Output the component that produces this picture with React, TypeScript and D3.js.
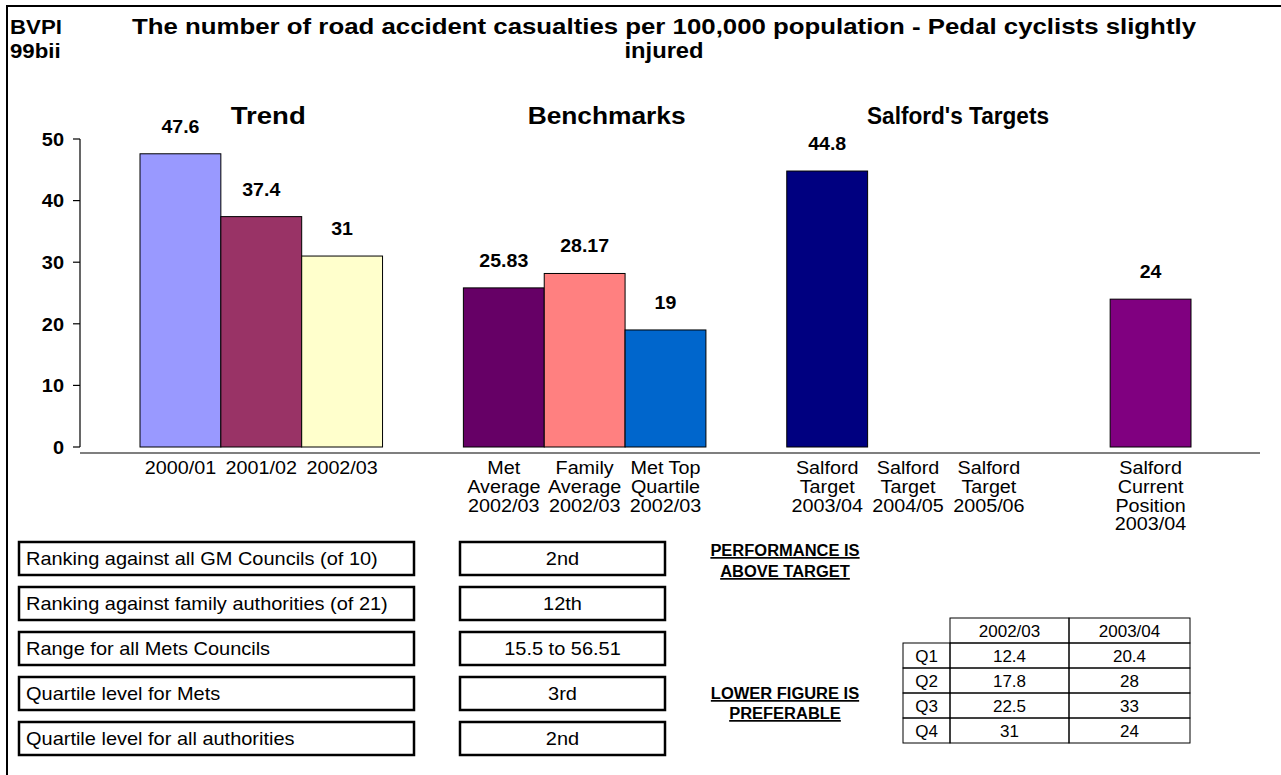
import React from "react";
import * as d3 from "d3";

const categories: string[][] = [
  ["2000/01"],
  ["2001/02"],
  ["2002/03"],
  [],
  ["Met", "Average", "2002/03"],
  ["Family", "Average", "2002/03"],
  ["Met Top", "Quartile", "2002/03"],
  [],
  ["Salford", "Target", "2003/04"],
  ["Salford", "Target", "2004/05"],
  ["Salford", "Target", "2005/06"],
  [],
  ["Salford", "Current", "Position", "2003/04"],
];
const values: (number | null)[] = [47.6, 37.4, 31, null, 25.83, 28.17, 19, null, 44.8, null, null, null, 24];
const barColors: string[] = [
  "#9999FF", "#993366", "#FFFFCC", "none",
  "#660066", "#FF8080", "#0066CC", "none",
  "#000080", "#000080", "#000080", "none",
  "#800080",
];
const groupTitles = ["Trend", "Benchmarks", "Salford's Targets"];
const groupAnchorIndex = [1, 5, 9];
const yTicks = [0, 10, 20, 30, 40, 50];

const infoLabels = [
  "Ranking against all GM Councils (of 10)",
  "Ranking against family authorities (of 21)",
  "Range for all Mets Councils",
  "Quartile level for Mets",
  "Quartile level for all authorities",
];
const infoValues = ["2nd", "12th", "15.5 to 56.51", "3rd", "2nd"];

const quartileYears = ["2002/03", "2003/04"];
const quartileNames = ["Q1", "Q2", "Q3", "Q4"];
const quartile0203 = ["12.4", "17.8", "22.5", "31"];
const quartile0304 = ["20.4", "28", "33", "24"];

const FONT = "'Liberation Sans', Arial, sans-serif";

function SText(props: {
  x: number;
  y: number;
  sx?: number;
  size: number;
  bold?: boolean;
  anchor?: "start" | "middle" | "end";
  dy?: string;
  underline?: boolean;
  children: React.ReactNode;
}) {
  const { x, y, sx = 1, size, bold, anchor = "start", dy, underline, children } = props;
  return (
    <text
      transform={`translate(${x},${y}) scale(${sx},1)`}
      x={0}
      y={0}
      dy={dy}
      fontSize={size}
      fontWeight={bold ? "bold" : "normal"}
      textAnchor={anchor}
      textDecoration={underline ? "underline" : undefined}
    >
      {children}
    </text>
  );
}

export default function App() {
  const W = 1281;
  const H = 775;
  const keys = categories.map((_, i) => String(i));
  const x = d3.scaleBand<string>().domain(keys).range([140, 1191]).paddingInner(0).paddingOuter(0);
  const y = d3.scaleLinear().domain([0, 50]).range([447, 139]);
  const bw = x.bandwidth();
  const groupDx = [7, 22, 50];
  const groupLen = [75, 158, 182];

  const boxTop = 542;
  const boxStep = 45;
  const boxH = 33;

  const tX = [903, 950, 1069, 1190];
  const tY0 = 618;
  const rowH = 25;

  return (
    <svg
      width={W}
      height={H}
      style={{ position: "absolute", left: 0, top: 0, display: "block", background: "#fff" }}
      fontFamily={FONT}
    >
      <rect x={0} y={0} width={W} height={H} fill="#fff" />
      {/* frame */}
      <line x1={7} y1={6} x2={W} y2={6} stroke="#000" strokeWidth={2} />
      <line x1={7} y1={5} x2={7} y2={H} stroke="#000" strokeWidth={2} />

      {/* title */}
      <SText x={10} y={34} size={21} bold sx={1.06}>BVPI</SText>
      <SText x={10} y={58} size={21} bold sx={1.06}>99bii</SText>
      <text
        x={664}
        y={34}
        fontSize={22}
        fontWeight="bold"
        textAnchor="middle"
        textLength={1064}
        lengthAdjust="spacingAndGlyphs"
      >
        The number of road accident casualties per 100,000 population - Pedal cyclists slightly
      </text>
      <SText x={664} y={58} size={22} bold sx={1.08} anchor="middle">injured</SText>

      {/* group titles */}
      {groupTitles.map((g, i) => (
        <text
          key={g}
          x={(x(keys[groupAnchorIndex[i]]) as number) + bw / 2 + groupDx[i]}
          y={124}
          fontSize={23}
          fontWeight="bold"
          textAnchor="middle"
          textLength={groupLen[i]}
          lengthAdjust="spacingAndGlyphs"
        >
          {g}
        </text>
      ))}

      {/* y axis */}
      <line x1={80} y1={y(0)} x2={80} y2={y(50)} stroke="#000" strokeWidth={1.2} />
      {yTicks.map((t) => (
        <g key={t}>
          <line x1={73} x2={80} y1={y(t)} y2={y(t)} stroke="#000" strokeWidth={1.2} />
          <SText x={64} y={y(t)} dy="0.36em" size={19} bold sx={1.05} anchor="end">
            {t}
          </SText>
        </g>
      ))}
      {/* category axis */}
      <line x1={80} y1={453} x2={1260} y2={453} stroke="#000" strokeWidth={1.2} />

      {/* bars */}
      {values.map((v, i) =>
        v == null ? null : (
          <g key={i}>
            <rect
              x={x(keys[i])}
              y={y(v)}
              width={bw}
              height={y(0) - y(v)}
              fill={barColors[i]}
              stroke="#000"
              strokeWidth={1}
            />
            <SText
              x={(x(keys[i]) as number) + bw / 2}
              y={y(v) - 21}
              size={19}
              bold
              sx={1.03}
              anchor="middle"
            >
              {String(v)}
            </SText>
          </g>
        )
      )}

      {/* category labels */}
      {categories.map((lines, i) => (
        <g key={i}>
          {lines.map((l, j) => (
            <SText key={j} x={(x(keys[i]) as number) + bw / 2} y={474 + j * 18.8} size={17.5} sx={1.13} anchor="middle">
              {l}
            </SText>
          ))}
        </g>
      ))}

      {/* info boxes */}
      {infoLabels.map((lab, i) => (
        <g key={lab}>
          <rect x={19} y={boxTop + i * boxStep} width={395} height={boxH} fill="#fff" stroke="#000" strokeWidth={2.5} />
          <SText x={26} y={boxTop + i * boxStep + boxH / 2} dy="0.36em" size={18} sx={1.11}>
            {lab}
          </SText>
          <rect x={460} y={boxTop + i * boxStep} width={205} height={boxH} fill="#fff" stroke="#000" strokeWidth={2.5} />
          <SText x={562.5} y={boxTop + i * boxStep + boxH / 2} dy="0.36em" size={18} sx={1.11} anchor="middle">
            {infoValues[i]}
          </SText>
        </g>
      ))}

      {/* notes */}
      {[
        ["PERFORMANCE IS", 556],
        ["ABOVE TARGET", 577],
        ["LOWER FIGURE IS", 699],
        ["PREFERABLE", 719],
      ].map(([t, yy]) => (
        <SText key={t as string} x={785} y={yy as number} size={17} bold sx={0.97} anchor="middle" underline>
          {t}
        </SText>
      ))}

      {/* quartile table */}
      <g>
        {quartileYears.map((yr, c) => (
          <g key={yr}>
            <rect x={tX[c + 1]} y={tY0} width={tX[c + 2] - tX[c + 1]} height={rowH} fill="none" stroke="#000" strokeWidth={1} />
            <SText x={(tX[c + 1] + tX[c + 2]) / 2} y={tY0 + rowH / 2} dy="0.36em" size={17} sx={1} anchor="middle">
              {yr}
            </SText>
          </g>
        ))}
        {quartileNames.map((q, r) => {
          const ry = tY0 + rowH * (r + 1);
          const cells = [q, quartile0203[r], quartile0304[r]];
          return (
            <g key={q}>
              {cells.map((c, k) => (
                <g key={k}>
                  <rect x={tX[k]} y={ry} width={tX[k + 1] - tX[k]} height={rowH} fill="none" stroke="#000" strokeWidth={1} />
                  <SText x={(tX[k] + tX[k + 1]) / 2} y={ry + rowH / 2} dy="0.36em" size={17} sx={1} anchor="middle">
                    {c}
                  </SText>
                </g>
              ))}
            </g>
          );
        })}
      </g>
    </svg>
  );
}
